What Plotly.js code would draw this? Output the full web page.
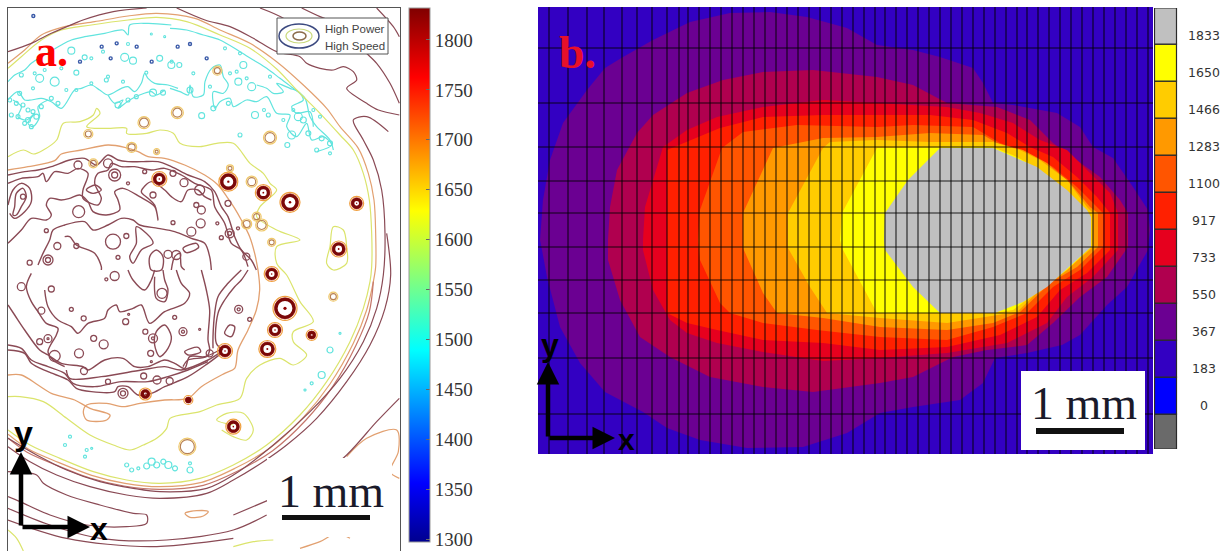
<!DOCTYPE html>
<html><head><meta charset="utf-8">
<script src="https://cdn.plot.ly/plotly-3.0.1.min.js"></script>
<style>html,body{margin:0;padding:0;background:#fff}#c{width:1228px;height:551px}</style></head>
<body><div id="c"></div>
<script>
// ---- Panel a: contour lines (units: 1/3 image pixel)
const tempTicks=[1300,1350,1400,1450,1500,1550,1600,1650,1700,1750,1800];
const arcYellow=[24,205,64,170,124,120,184,90,274,75,384,60,470,52,560,65,660,105,750,145,830,207,890,270,960,340,1020,405,1060,450,1090,520,1108,600,1115,700,1115,800,1110,845,1090,925,1050,1025,980,1145,900,1245,800,1335,700,1395,600,1435,480,1450,380,1440,280,1415,180,1375,90,1335,24,1290];
const arcOrange=[24,190,74,150,124,105,194,80,284,65,384,48,470,40,585,55,660,90,750,130,830,185,910,255,980,325,1020,380,1075,445,1105,520,1122,600,1127,700,1127,800,1120,845,1100,930,1060,1030,990,1152,910,1252,810,1344,705,1405,605,1447,480,1460,375,1450,275,1426,175,1387,85,1347,24,1303];
const arcBrown=[1120,845,1108,935,1068,1036,998,1160,918,1260,818,1352,712,1414,610,1456,480,1468,372,1458,270,1434,170,1396,80,1356,24,1314];
const arcDark1=[24,155,94,130,154,100,224,70,249,60,340,35,440,24];
const arcDarkTop=[530,24,615,60,690,80,760,115,830,155,900,170,920,190,960,205,1000,210,1030,200,1060,215,1070,240,1040,265,1100,310,1135,330,1198,345];
const arcDark2=[1165,395,1100,350,1060,360,1090,420,1120,480,1145,570,1155,700,1150,825,1130,925,1090,1025,1020,1135,930,1235,820,1335,700,1425,620,1465,480,1475,400,1465,300,1445,200,1410,110,1365,24,1315];
const arcDark3=[1160,700,1172,825,1155,925,1110,1035,1040,1145,950,1255,860,1335,790,1385,700,1440,620,1480,480,1495,380,1485,270,1460,170,1425,90,1385,24,1340];
const outerA=[905,24,960,50,1010,70,1060,110,1090,150,1130,190,1170,250,1198,310];
const outerC=[1130,24,1180,80,1198,110];
const outerD=[780,24,850,55,905,100,930,125];
const lowerA=[24,1415,110,1425,130,1450,200,1485,300,1515,400,1540,440,1545,440,1570,380,1580,260,1575,150,1545,60,1505,24,1490];
const lowerB=[24,1525,150,1575,300,1615,500,1620,700,1590,800,1545];
const lowerC=[24,1560,200,1615,450,1640,700,1615];
const lowerF=[1198,1195,1130,1265,1040,1365,940,1445,830,1490,700,1545];
const lowerD=[1040,1370,1100,1315,1190,1290,1195,1355,1170,1415,1198,1435];
const lowerE=[555,1540,590,1532,625,1535,610,1548,570,1552,555,1540];
const bottomYellow=[24,1590,50,1615,70,1653];
const bottomYellow2=[700,1640,760,1625,820,1620];
const bottomOrange=[900,1645,960,1625,1010,1600,1050,1615];
const midYellow=[24,470,70,450,100,462,130,450,170,420,190,370,240,365,280,345,290,325,300,340,260,380,330,385,380,385,380,400,440,400,480,390,520,400,540,430,600,440,650,430,700,430,750,490,790,520,810,550,830,570,780,620,770,650,830,690,900,720,830,740,830,790,860,825,900,905,940,965,880,995,880,1025,920,1065,880,1095,840,1075,780,1095,740,1135,720,1195,650,1215,600,1235,510,1255,500,1285,470,1315,430,1335,390,1350,340,1335,270,1305,200,1255,130,1205,60,1190,24,1190];
const midYellow2=[1000,680,1030,690,1040,740,1040,790,1000,810,980,790,990,740,1000,680];
const midYellow3=[700,1275,650,1260,680,1240,730,1240,760,1290,740,1320,700,1310,665,1290];
// crop A contours: add (24,420) to reach panel units
const orangeA=[0,90,60,80,140,62,160,42,220,30,300,15,350,22,390,35,420,50,470,55,530,75,590,105,630,135,660,175,680,205,700,240,725,290,740,340,750,390];
const darkOuterA=[0,105,50,95,90,90,130,80,185,60,230,55,265,75,300,45,330,60,360,65,400,65,450,65,490,80,540,105,590,125,620,155,640,200,660,230,680,290,700,330,730,360,745,390];
const darkInnerA=[0,130,40,115,90,110,105,100,115,125,140,95,180,100,210,85,240,100,225,150,225,175,270,195,280,175,260,130,270,100,300,90,310,70,340,80,380,80,430,90,470,85,520,105,560,130,610,150,620,200,650,250,670,310,700,330,720,380];
const eyeOuterA=[0,195,15,150,40,130,65,145,70,185,50,215,20,235,5,220];
const eyeInnerA=[20,200,25,160,45,145,55,170,40,200,25,225,15,225,20,200];
const lineDA=[0,310,40,270,70,235,115,240,130,225,115,195,125,175,160,180,185,175,215,165,240,185,255,215,295,225,335,210,330,180,320,155,345,145,395,170,440,200,450,240,440,195,420,175,400,155,430,125,470,150,490,170,520,185,540,150,570,150,590,170,610,180];
const lineEA=[90,375,105,340,125,300,135,270,170,255,230,245,255,270,300,255,340,235,375,240,395,255,450,265,500,275,550,295,590,310,605,350,610,390];
const lineFA=[170,290,185,290,205,315,260,340,280,380,280,390];
const shapeFA=[385,260,425,290,435,310,400,330,375,370,365,350,385,310,385,260];
const shapeGA=[235,150,262,135,280,150,255,160,235,150];
const shapeHA=[525,325,565,310,572,322,535,338,525,325];
const shapeIA=[425,350,445,330,465,350,460,390,430,390,425,350];
const shapeJA=[490,390,500,350,515,340,520,380,530,390];
// crop B contours: add (24,810) to reach panel units
const lineE2B=[110,60,120,110,150,150,190,170,210,190,240,160,290,145,300,120,325,105,335,125,375,115,400,105,425,160,470,125,530,100,545,70,520,40,505,0];
const shape1B=[360,0,375,30,410,60,430,30,440,0];
const shape2B=[440,20,445,85,470,95,480,60,470,30,465,0];
const rightB1=[580,0,595,60,605,120,600,210,605,240,595,260,540,270,525,290];
const rightB2=[700,0,660,40,630,80,620,130,615,200,615,235];
const rightB3=[720,0,700,30,680,50,650,90,630,130,625,220,645,240];
const leftB1=[70,10,55,50,70,95,90,125,115,160,150,175,145,195,120,245,135,270,170,290];
const lowAB=[0,105,20,135,50,180,95,240,120,255,160,280,225,290,240,300,290,270,345,265,380,290,420,290,470,270,500,280,530,295,545,260,590,260,635,240];
const lowBB=[175,300,185,325,280,320,400,300,470,290,520,300,600,270,640,245];
const lowCB=[0,225,40,235,70,270,120,290,170,310,195,340,260,350,340,335,420,335,480,320,540,300,600,275];
const lowDB=[0,240,50,250,70,280,120,305,180,330,205,355,250,365,320,365,330,350,360,350,390,375,430,370,470,350,540,320,600,280,640,250];
const orangeLowB=[750,0,755,60,745,120,720,180,690,240,680,295,650,310,580,350,540,385,470,390,396,400,346,410,296,400,236,405,226,425,236,450,296,450,306,435,246,415,200,390,130,370,90,345,40,315,0,315];
const shape3B=[445,185,470,165,490,200,480,235,455,260,440,225,445,185];
const shape4B=[650,190,665,165,680,170,670,200,650,190];
const shape5B=[530,245,570,232,578,245,540,255,530,245];
// crop C / D: cyan band, add (24,60) and (510,60)
const cyanTopC=[0,185,20,165,50,150,70,130,110,105,160,75,190,60,230,50,290,40,345,30,360,45,365,15,420,10,490,15];
const cyanLowC=[0,240,30,215,50,240,70,240,100,235,130,245,160,265,200,210,220,205,250,195,275,210,300,225,340,205,360,200,380,215,400,190,410,160,420,175,440,190,480,195,510,205];
const cyanNetC=[15,240,40,260,30,290,55,300,80,280,60,310,75,320,95,290,90,260,120,240];
const cyanNet2C=[300,225,320,250,345,240,330,265,365,240,395,225,430,215,445,225,470,210];
const cyanTopD=[0,25,50,30,100,45,150,60,210,95,250,120,290,145,330,175,370,205,405,235,420,290,440,320,480,360,490,390];
const cyanLowD=[0,205,30,215,55,225,60,195,70,230,100,225,105,185,125,145,150,135,160,170,175,195,160,220,130,215,135,265,150,245,180,235,190,260,230,240,260,245,290,230,320,280,360,285,350,320,380,350,410,310,425,360,460,350,485,375,440,395];
const cyanBranchD=[260,195,290,205,310,220,340,215,320,190,360,205,385,215,400,240,365,260,380,280,420,275,430,320];
const cyanDotsC=[95,175,8,140,185,9,190,92,7,350,112,8,375,122,7,455,115,6,490,135,7,230,112,5,205,158,5,40,165,4,295,180,4,10,285,4,30,290,4,85,290,5,60,300,5,70,320,4,50,310,4,45,255,4,250,190,3,160,145,3,110,150,3,75,205,3,80,160,3,175,210,3,205,210,3,250,115,3,285,95,3,300,170,3,345,185,3,435,218,7,465,218,5,415,158,3,470,50,2,430,42,2,360,72,3,130,235,4,150,250,4,100,260,4,35,220,4,5,240,4,25,250,4,360,240,4,385,230,4,330,255,6,60,270,4,75,275,4];
const cyanDotsD=[245,200,8,205,185,7,255,285,7,95,287,6,220,135,7,60,210,6,165,85,3,210,100,3,295,285,4,282,270,3,340,300,3,430,270,3,450,290,3,352,375,5,210,345,4,120,200,3,180,160,3,200,155,3,230,175,3,300,170,3,370,270,3,400,300,6,385,290,8,365,345,8,415,340,5,440,390,4,480,370,5,455,355,5,480,400,3,130,265,5,175,250,4,5,125,3,28,135,5,70,160,3];
// panel-unit cyan dots for the lower clusters
const cyanLowDots=[990,1050,6,965,1125,7,935,1150,3,915,1170,2,760,1240,0,380,1395,4,395,1410,4,415,1405,3,440,1398,6,455,1385,7,470,1395,6,490,1385,5,505,1395,7,525,1405,5,570,1410,6,570,1390,3,210,1310,3,195,1335,3,260,1350,3,255,1370,3,275,1345,2,1020,1000,2];
const blueDotX=[533,570,620,332,240,350,410,455,305,100];
const blueDotY=[140,132,175,175,185,130,140,185,140,48];
const hotX=[685,790,870,1070,1016,478,815,855,825,802,675,700,436,935,565];
const hotY=[545,578,607,610,747,537,822,925,990,1047,1053,1280,1182,1005,1200];
const hotSize=[13,10,14,8,10,9,9,18,9,11,9,9,6,5,3];
const warmX=[532,432,810,265,395,562,1000,755,785,770,815,740,652,470,280,690];
const warmY=[338,368,413,402,442,1340,890,545,675,650,727,672,212,455,490,505];
const warmSize=[9,9,10,6,7,14,6,8,9,6,5,7,6,3,6,4];
// ring triples: x, y, diameter; crop A then crop B offsets
const ringsA=[315,305,15,212,215,12,320,105,12,320,105,6,300,70,9,210,75,8,550,275,9,578,250,9,580,210,8,565,195,5,495,100,6,410,95,4,360,130,3,435,165,6,495,248,4,355,288,5,115,272,4,148,318,7,120,360,10,120,360,5,65,368,5,205,318,5,330,352,4,528,128,8,640,293,4,628,250,3,665,280,9,665,280,4,690,265,3,660,190,6,45,170,5,480,343,8,505,345,9,575,150,10,715,350,7];
const ringsB=[40,50,8,130,57,6,320,18,9,295,28,3,100,122,7,190,118,4,227,145,5,353,155,6,362,133,2,412,185,5,435,205,9,435,205,3,525,185,8,525,185,3,500,142,4,120,206,8,120,206,2,95,215,6,257,205,6,287,223,9,213,250,9,140,258,11,228,303,7,428,250,6,430,275,2,300,335,5,407,318,6,447,330,8,485,333,7,345,370,10,345,370,5,575,178,2,692,118,8,692,118,3,725,148,4,462,70,10,605,250,7];

// ---- Panel b: nested filled isotherm regions (units: image pixel)
const levelColors=['#6a6a6a','#0000ff','#3300c2','#6b0092','#b0004f','#e6001e','#ff2000','#ff5500','#ff9900','#ffcc00','#ffff00','#c0c0c0'];
const levelLabels=['1833','1650','1466','1283','1100','917','733','550','367','183','0'];
const levelValues=[1833,1650,1466,1283,1100,917,733,550,367,183,0];
const levelEdges=[-208,-35,148,331,515,698,881,1065,1248,1431,1615,1798,1977];
const iso367=[540,240,543,200,550,160,563,123,587,90,605,68,623,57,653,40,690,22,730,13,770,12,807,17,847,28,877,45,913,50,940,57,973,68,983,83,993,103,1013,105,1057,113,1080,127,1093,147,1113,158,1133,187,1148,210,1150,230,1148,250,1127,287,1107,305,1080,335,1062,345,1027,353,995,358,983,383,960,400,913,407,880,413,847,433,803,447,747,448,700,440,667,428,643,412,605,392,580,363,560,327,547,277,542,250];
const iso550=[608,240,610,207,617,170,637,133,653,115,687,93,723,80,763,72,813,70,877,77,913,85,947,103,997,107,1030,120,1053,143,1080,163,1100,177,1120,200,1128,213,1128,247,1107,277,1080,297,1053,323,1027,345,987,350,953,357,913,377,880,383,813,392,763,387,710,377,670,357,640,337,620,300,608,260];
const iso733=[643,240,645,207,663,147,687,130,717,117,763,107,823,100,877,103,947,107,980,113,1013,123,1040,140,1067,150,1087,170,1110,193,1118,213,1118,250,1093,277,1067,297,1047,323,1007,343,947,353,880,358,823,361,763,352,717,343,687,333,670,320,653,290,643,250];
const iso917=[667,240,667,150,720,128,763,117,823,115,877,115,930,115,973,120,1007,133,1030,147,1053,157,1077,177,1097,197,1110,213,1110,250,1087,273,1060,290,1037,317,1000,335,947,347,880,350,823,343,763,340,717,330,687,323,667,313,667,250];
const iso1100=[698,240,700,210,722,148,743,132,797,125,877,127,913,125,973,127,1000,143,1027,153,1053,167,1077,187,1093,203,1103,213,1103,247,1080,270,1053,287,1027,313,993,327,947,340,880,337,817,330,763,323,730,313,720,303,700,260];
const iso1283=[743,240,743,213,773,148,823,138,877,137,930,133,983,135,997,143,1023,150,1047,163,1070,183,1090,207,1098,213,1098,247,1077,267,1050,283,1020,312,993,323,947,330,880,327,823,318,777,313,763,293,743,248];
const iso1466=[788,240,788,213,823,148,830,142,877,140,930,142,993,142,1020,150,1040,160,1067,180,1087,207,1093,213,1093,247,1070,267,1043,287,1017,312,947,323,880,318,827,313,810,287,788,248];
const iso1650=[840,240,842,213,877,148,993,147,1017,157,1040,170,1067,197,1087,213,1091,240,1091,247,1067,270,1037,292,1013,310,993,313,877,313,842,248];
const iso1833=[885,213,908,180,940,148,993,148,1037,167,1067,190,1087,210,1091,217,1091,247,1047,287,1023,302,995,313,940,313,913,287,885,250,884,240];
const gridX=[549,568,587,604,622,637,652,667,679,688,699,710,721,732,743,754,765,776,787,798,809,820,831,842,853,864,875,885,896,907,918,929,940,951,962,973,984,995,1006,1017,1027,1038,1049,1060,1071,1082,1093,1104,1115,1126,1137,1148];
const gridY=[48,103,147,181,213,247,280,313,358,414];

// ---- helpers
const xs=(a,o)=>a.filter((_,i)=>i%2===0).map(v=>v+(o?o[0]:0)), ys=(a,o)=>a.filter((_,i)=>i%2===1).map(v=>v+(o?o[1]:0));
const cropA=[24,420],cropB=[24,810],cropC=[24,60],cropD=[510,60];
const traces=[];
function curve(a,color,width,o,smooth){traces.push({type:'scatter',mode:'lines',x:xs(a,o),y:ys(a,o),xaxis:'x',yaxis:'y',hoverinfo:'skip',showlegend:false,line:{color:color,width:width||1.2,shape:'spline',smoothing:smooth===undefined?0.9:smooth}});}
const dark='#8a4a55',brown='#c4756a',orange='#e2a070',yellow='#dbe46c',cyan='#62e4de';
[cyanTopC,cyanLowC,cyanNetC,cyanNet2C].forEach(c=>curve(c,cyan,1.2,cropC));
[cyanTopD,cyanLowD,cyanBranchD].forEach(c=>curve(c,cyan,1.2,cropD));
[arcYellow,midYellow,midYellow2,midYellow3,bottomYellow,bottomYellow2].forEach(c=>curve(c,yellow,1.2));
[arcOrange,lowerD,lowerE,bottomOrange].forEach(c=>curve(c,orange,1.2));
curve(orangeA,orange,1.3,cropA); curve(orangeLowB,orange,1.3,cropB);
curve(arcBrown,brown,1.2);
[arcDark1,arcDarkTop,arcDark2,arcDark3,outerA,outerC,outerD,lowerA,lowerB,lowerC,lowerF].forEach(c=>curve(c,dark,1.2));
[darkOuterA,darkInnerA,eyeOuterA,eyeInnerA,lineDA,lineEA,lineFA,shapeFA,shapeGA,shapeHA,shapeIA,shapeJA].forEach(c=>curve(c,dark,1.4,cropA));
[lineE2B,shape1B,shape2B,rightB1,rightB2,rightB3,leftB1,lowAB,lowBB,lowCB,lowDB,shape3B,shape4B,shape5B].forEach(c=>curve(c,dark,1.4,cropB));
function dots(x,y,size,color,lw){traces.push({type:'scatter',mode:'markers',x:x,y:y,xaxis:'x',yaxis:'y',hoverinfo:'skip',showlegend:false,marker:{symbol:'circle-open',opacity:1,size:size,color:color,line:{width:lw,color:color}}});}
function triples(a,o,color,lw){const X=[],Y=[],S=[];for(let i=0;i<a.length;i+=3){if(a[i+2]>0){X.push(a[i]+o[0]);Y.push(a[i+1]+o[1]);S.push(a[i+2]);}}dots(X,Y,S,color,lw);}
triples(cyanDotsC,cropC,cyan,1.1); triples(cyanDotsD,cropD,cyan,1.1); triples(cyanLowDots,[0,0],cyan,1.2);
dots(blueDotX,blueDotY,blueDotX.map(()=>3),'#3a5aa8',1.4);
triples(ringsA,cropA,dark,1.3); triples(ringsB,cropB,dark,1.3);
dots(warmX,warmY,warmSize.map(s=>s+3),'#f0c868',1.2);
dots(warmX,warmY,warmSize,'#b88050',1.1);
dots(hotX,hotY,hotSize.map(s=>s+6),'#f0a040',1.2);
dots(hotX,hotY,hotSize.map(s=>s+3),'#c85040',1);
dots(hotX,hotY,hotSize,'#7a0808',3.2);
traces.push({type:'scatter',mode:'markers',x:hotX,y:hotY,xaxis:'x',yaxis:'y',hoverinfo:'skip',showlegend:false,
  marker:{symbol:'circle',opacity:1,size:hotSize.map(s=>Math.max(1,s*0.18)),color:hotSize.map(()=>1825),coloraxis:'coloraxis',line:{width:0}}});

// Panel b fills
function region(a,color){traces.push({type:'scatter',mode:'lines',x:xs(a),y:ys(a),xaxis:'x2',yaxis:'y2',fill:'toself',fillcolor:color,hoverinfo:'skip',showlegend:false,line:{width:0,color:color}});}
region([538,7,1153,7,1153,454,538,454],levelColors[2]);
[iso367,iso550,iso733,iso917,iso1100,iso1283,iso1466,iso1650,iso1833].forEach((a,i)=>region(a,levelColors[i+3]));
const gx=[],gy=[];
gridX.forEach(v=>{gx.push(v,v,null);gy.push(7,454,null);});
gridY.forEach(v=>{gx.push(538,1153,null);gy.push(v,v,null);});
traces.push({type:'scatter',mode:'lines',x:gx,y:gy,xaxis:'x2',yaxis:'y2',hoverinfo:'skip',showlegend:false,line:{color:'rgba(0,0,0,0.85)',width:1.1}});

// Panel b stepped colour key
traces.push({type:'bar',x:levelColors.map(()=>1165.5),y:levelEdges.slice(1).map((e,i)=>e-levelEdges[i]),base:levelEdges.slice(0,-1),width:levelColors.map(()=>22),
  xaxis:'x3',yaxis:'y3',hoverinfo:'skip',showlegend:false,marker:{color:levelColors,line:{color:'#2a2a2a',width:1.2}}});
traces.push({type:'scatter',mode:'text',x:levelValues.map(()=>1204),y:levelValues,text:levelLabels,textposition:'middle center',xaxis:'x3',yaxis:'y3',hoverinfo:'skip',showlegend:false,
  textfont:{family:'"DejaVu Sans",sans-serif',size:12.5,color:'#333'}});

const W=1228,H=551;
const hidden={showgrid:false,zeroline:false,showticklabels:false,ticks:'',showline:false,fixedrange:true};
const dx=(a,b)=>[a/W,b/W], dy=(t,b)=>[1-b/H,1-t/H];
const serif='"Liberation Serif",serif', sans='"Liberation Sans",sans-serif';
function ann(xref,yref,x,y,text,font,extra){return Object.assign({xref:xref,yref:yref,x:x,y:y,text:text,showarrow:false,font:font,xanchor:'center',yanchor:'middle'},extra||{});}
function arrow(x0,y0,x1,y1){return {xref:'paper',yref:'paper',axref:'pixel',ayref:'pixel',x:x1/W,y:1-y1/H,ax:x0-x1,ay:y0-y1,text:'',showarrow:true,arrowhead:2,arrowsize:1,arrowwidth:4.5,arrowcolor:'#000'};}
const P=(x,y,text,font)=>ann('paper','paper',x/W,1-y/H,text,font);
const box=(x0,y0,x1,y1,fill,line,lw,type)=>({type:type||'rect',xref:'paper',yref:'paper',x0:x0/W,x1:x1/W,y0:1-y0/H,y1:1-y1/H,fillcolor:fill,line:{color:line||fill,width:lw||0},layer:'above'});

const layout={width:W,height:H,margin:{l:0,r:0,t:0,b:0},paper_bgcolor:'#fff',plot_bgcolor:'rgba(0,0,0,0)',showlegend:false,
  xaxis:Object.assign({},hidden,{domain:dx(8,400),range:[24,1200],showline:true,mirror:true,linecolor:'#555',linewidth:1}),
  yaxis:Object.assign({},hidden,{domain:dy(8,551),range:[1653,24],showline:true,mirror:true,linecolor:'#555',linewidth:1}),
  xaxis2:Object.assign({},hidden,{domain:dx(538,1153),range:[538,1153],anchor:'y2'}),
  yaxis2:Object.assign({},hidden,{domain:dy(7,454),range:[454,7],anchor:'x2'}),
  xaxis3:Object.assign({},hidden,{domain:dx(1154,1228),range:[1154,1228],anchor:'y3'}),
  yaxis3:Object.assign({},hidden,{domain:dy(8,449),range:[-208,1977],anchor:'x3'}),
  coloraxis:{cmin:1297,cmax:1832,colorscale:[[0,'#00008f'],[0.11,'#0000ff'],[0.36,'#00ffff'],[0.62,'#ffff00'],[0.87,'#ff0000'],[1,'#800000']],
    colorbar:{x:408.5/W,xanchor:'left',xpad:0,ypad:0,y:1-542/H,yanchor:'bottom',len:534/H,lenmode:'fraction',thickness:21,thicknessmode:'pixels',
      tickmode:'array',tickvals:tempTicks,ticktext:tempTicks.map(String),ticks:'inside',ticklen:4,tickcolor:'#666',
      tickfont:{family:serif,size:19,color:'#333'},outlinecolor:'#999',outlinewidth:1}},
  shapes:[
    box(277,18,388,54,'#fff','#555',1),
    box(279,24,319,48,'rgba(0,0,0,0)','#3c4a80',1.5,'circle'),
    box(286,29,312,43,'rgba(0,0,0,0)','#c8d87a',1.2,'circle'),
    box(293,32,306,40,'rgba(0,0,0,0)','#8a6a4a',1.5,'circle'),
    box(267,458,392,537,'#fff'),
    box(282,515,370,520,'#111'),
    box(1021,371,1145,450,'#fff'),
    box(1036,428,1124,434,'#111')
  ],
  annotations:[
    P(51,51,'<b>a.</b>',{family:serif,size:44,color:'#ff0000'}),
    P(577,53,'<b>b.</b>',{family:serif,size:46,color:'#e8102a'}),
    ann('paper','paper',323/W,1-29/H,'High Power',{family:sans,size:11.5,color:'#444'},{xanchor:'left'}),
    ann('paper','paper',323/W,1-46/H,'High Speed',{family:sans,size:11.5,color:'#444'},{xanchor:'left'}),
    P(331,491,'1 mm',{family:serif,size:46,color:'#1a1a2a'}),
    P(1084,403,'1 mm',{family:serif,size:46,color:'#1a1a2a'}),
    arrow(21,527,21,452), arrow(21,527,90,527),
    P(24,433,'<b>y</b>',{family:sans,size:34,color:'#000'}),
    P(99,529,'<b>x</b>',{family:sans,size:32,color:'#000'}),
    arrow(548,438,548,362), arrow(548,438,615,438),
    P(550,345,'<b>y</b>',{family:sans,size:32,color:'#000'}),
    P(626,440,'<b>x</b>',{family:sans,size:30,color:'#000'})
  ]};
Plotly.newPlot('c',traces,layout,{displayModeBar:false,staticPlot:true});
</script></body></html>
